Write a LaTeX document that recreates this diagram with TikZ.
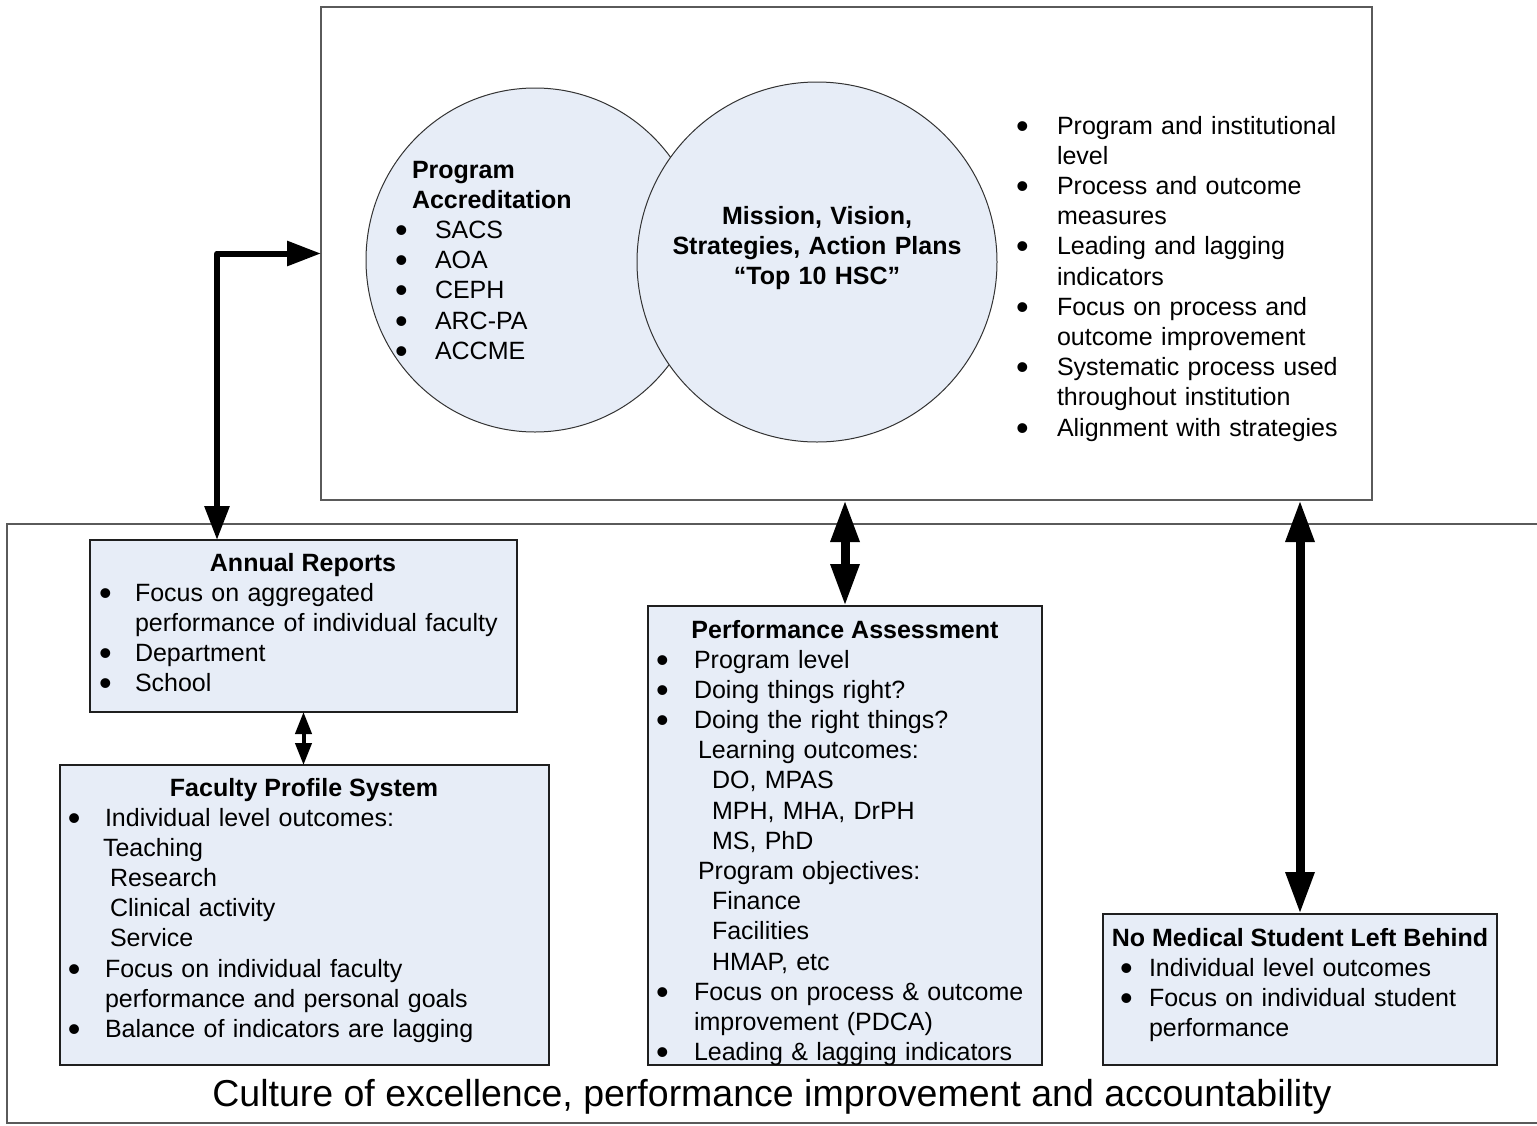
\documentclass[tikz,border=0pt]{standalone}
\usepackage{fontspec}
\setmainfont{Liberation Sans}
\usetikzlibrary{arrows.meta,shapes.geometric}
\definecolor{boxfill}{RGB}{231,237,247}
\definecolor{framegray}{RGB}{90,90,90}
\newcommand\bdot{\hspace*{-2pt}\smash{\raisebox{-4pt}{\fontsize{36}{30}\selectfont\textbullet}}}
\newcommand\bitem[2]{\makebox[#1][l]{\bdot}#2}
\tikzset{
  frame/.style={draw=framegray, line width=1.5pt, outer sep=0pt, inner sep=0pt, anchor=north west},
  box/.style={draw=black!88, fill=boxfill, line width=1.5pt, outer sep=0pt, inner sep=0pt, anchor=north west},
  circ/.style={ellipse, draw=black!80, fill=boxfill, line width=1pt, inner sep=0pt, outer sep=0pt},
  txt/.style={inner sep=0pt, outer sep=0pt, anchor=base west, align=left, text width=430pt, font=\fontsize{25}{30.2}\selectfont},
  hdr/.style={inner sep=0pt, outer sep=0pt, anchor=base, font=\fontsize{25}{30.2}\selectfont\bfseries},
  bigarrow/.style={line width=9pt, {Triangle[length=42pt,width=27pt]}-{Triangle[length=42pt,width=27pt]}},
  elbowarrow/.style={line width=6pt, line join=round, {Triangle[length=34pt,width=24pt]}-{Triangle[length=34pt,width=24pt]}},
  smallarrow/.style={line width=4pt, {Triangle[length=22pt,width=16pt]}-{Triangle[length=22pt,width=16pt]}},
}
\begin{document}
\begin{tikzpicture}[x=1pt,y=-1pt]
\useasboundingbox (0,0) rectangle (1537,1125);
\fill[white] (0,0) rectangle (1537,1125);

% frames
\node[frame, minimum width=1051pt, minimum height=493pt] (top) at (321,7) {};
\node[frame, minimum width=1545pt, minimum height=599pt] (base) at (7,524) {};

% circles
\node[circ, minimum width=338pt, minimum height=344pt] (acc) at (535,260) {};
\node[circ, minimum width=360pt, minimum height=360pt] (mis) at (817,262) {};

\node[txt] (acctxt) at (397,178) {%
\hspace*{15pt}\textbf{Program}\\
\hspace*{15pt}\textbf{Accreditation}\\
\bitem{38pt}{SACS}\\
\bitem{38pt}{AOA}\\
\bitem{38pt}{CEPH}\\
\bitem{38pt}{ARC-PA}\\
\bitem{38pt}{ACCME}};

\node[hdr, text width=340pt, align=center] (mistxt) at (817,224) {Mission, Vision,\\Strategies, Action Plans\\“Top 10 HSC”};

\node[txt] (toplist) at (1018,134) {%
\bitem{39pt}{Program and institutional}\\
\hspace*{39pt}level\\
\bitem{39pt}{Process and outcome}\\
\hspace*{39pt}measures\\
\bitem{39pt}{Leading and lagging}\\
\hspace*{39pt}indicators\\
\bitem{39pt}{Focus on process and}\\
\hspace*{39pt}outcome improvement\\
\bitem{39pt}{Systematic process used}\\
\hspace*{39pt}throughout institution\\
\bitem{39pt}{Alignment with strategies}};

% boxes
\node[box, minimum width=427pt, minimum height=172pt] (ar) at (90,540) {};
\node[hdr] (arh) at (303,571) {Annual Reports};
\node[txt] (art) at (101,601) {%
\bitem{34pt}{Focus on aggregated}\\
\hspace*{34pt}performance of individual faculty\\
\bitem{34pt}{Department}\\
\bitem{34pt}{School}};

\node[box, minimum width=489pt, minimum height=300pt] (fp) at (60,765) {};
\node[hdr] (fph) at (304,796) {Faculty Profile System};
\node[txt] (fpt) at (70,826) {%
\bitem{35pt}{Individual level outcomes:}\\
\hspace*{33pt}Teaching\\
\hspace*{40pt}Research\\
\hspace*{40pt}Clinical activity\\
\hspace*{40pt}Service\\
\bitem{35pt}{Focus on individual faculty}\\
\hspace*{35pt}performance and personal goals\\
\bitem{35pt}{Balance of indicators are lagging}};

\node[box, minimum width=394pt, minimum height=459pt] (pa) at (648,606) {};
\node[hdr] (pah) at (845,638) {Performance Assessment};
\node[txt] (pat) at (658,668) {%
\bitem{36pt}{Program level}\\
\bitem{36pt}{Doing things right?}\\
\bitem{36pt}{Doing the right things?}\\
\hspace*{40pt}Learning outcomes:\\
\hspace*{54pt}DO, MPAS\\
\hspace*{54pt}MPH, MHA, DrPH\\
\hspace*{54pt}MS, PhD\\
\hspace*{40pt}Program objectives:\\
\hspace*{54pt}Finance\\
\hspace*{54pt}Facilities\\
\hspace*{54pt}HMAP, etc\\
\bitem{36pt}{Focus on process \& outcome}\\
\hspace*{36pt}improvement (PDCA)\\
\bitem{36pt}{Leading \& lagging indicators}};

\node[box, minimum width=394pt, minimum height=151pt] (nm) at (1103,914) {};
\node[hdr] (nmh) at (1300,946) {No Medical Student Left Behind};
\node[txt] (nmt) at (1122,976) {%
\bitem{27pt}{Individual level outcomes}\\
\bitem{27pt}{Focus on individual student}\\
\hspace*{27pt}performance};

\node[inner sep=0pt, anchor=base, font=\fontsize{37.5}{40}\selectfont] (cap) at (772,1106) {Culture of excellence, performance improvement and accountability};

% connectors
\draw[elbowarrow] ([xshift=127pt]ar.north west) |- (top.west);
\draw[bigarrow] (pa.north) -- (pa.north |- top.south);
\draw[bigarrow] (nm.north) -- (nm.north |- top.south);
\draw[smallarrow] (ar.south) -- (ar.south |- fp.north);
\end{tikzpicture}
\end{document}
